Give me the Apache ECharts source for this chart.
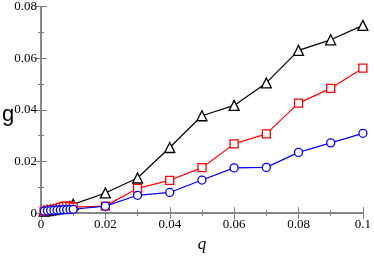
<!DOCTYPE html>
<html>
<head>
<meta charset="utf-8">
<script src="https://cdn.jsdelivr.net/npm/echarts@6/dist/echarts.min.js"></script>
<style>
  html, body { margin: 0; padding: 0; background: #fff; }
  #chart { width: 374px; height: 258px; }
</style>
</head>
<body>
<div id="chart"></div>
<script>
// q values (x axis)
var qValues = [0.001, 0.002, 0.003, 0.004, 0.005, 0.006, 0.007, 0.008, 0.009, 0.01,
  0.02, 0.03, 0.04, 0.05, 0.06, 0.07, 0.08, 0.09, 0.1];
// g values per series
var gBlack = [0.0008, 0.001, 0.0012, 0.0014, 0.0016, 0.0018, 0.002, 0.0022, 0.0026, 0.0034,
  0.0078, 0.0136, 0.0254, 0.0377, 0.0417, 0.0504, 0.063, 0.0671, 0.0727];
var gRed = [0.0008, 0.001, 0.0012, 0.0014, 0.0017, 0.0022, 0.0026, 0.0027, 0.0026, 0.0023,
  0.0027, 0.0096, 0.0127, 0.0176, 0.0268, 0.0307, 0.0426, 0.0483, 0.0561];
var gBlue = [0.0008, 0.0009, 0.001, 0.0011, 0.0012, 0.0012, 0.0013, 0.0013, 0.0014, 0.0015,
  0.0027, 0.0069, 0.008, 0.0128, 0.0175, 0.0177, 0.0235, 0.0272, 0.0309];

function pairs (ys) {
  return qValues.map(function (q, i) { return [q, ys[i]]; });
}
function fmt (v) {
  return v === 0 ? '0' : String(+v.toFixed(2));
}

var axisGray = '#7f7f7f';
var tickFont = { fontFamily: 'Liberation Serif', fontSize: 13, color: '#000' };

var frameAxis = {
  axisLine: { show: true, lineStyle: { color: axisGray, width: 1.5 } },
  axisTick: { show: true, inside: true, length: 6, lineStyle: { color: axisGray, width: 1 } },
  minorTick: { show: true, splitNumber: 2, length: 3, lineStyle: { color: axisGray, width: 1 } },
  splitLine: { show: false }
};

function series (name, ys, color, symbol, size) {
  return {
    name: name,
    type: 'line',
    data: pairs(ys),
    symbol: symbol,
    symbolSize: size,
    lineStyle: { color: color, width: 1.2 },
    itemStyle: { color: '#fff', borderColor: color, borderWidth: 1.3 },
    animation: false
  };
}

var chart = echarts.init(document.getElementById('chart'));
chart.setOption({
  animation: false,
  grid: { left: 41, right: 8, top: 5, bottom: 26 },
  xAxis: [
    Object.assign({
      type: 'value', min: 0, max: 0.1, interval: 0.02,
      name: 'q', nameLocation: 'middle', nameGap: 20,
      nameTextStyle: { fontFamily: 'Liberation Serif', fontStyle: 'italic', fontSize: 17, color: '#000' },
      axisLabel: Object.assign({ formatter: fmt, margin: 5 }, tickFont)
    }, frameAxis),
    Object.assign({
      type: 'value', min: 0, max: 0.1, interval: 0.02, position: 'top',
      axisLabel: { show: false }
    }, frameAxis)
  ],
  yAxis: [
    Object.assign({
      type: 'value', min: 0, max: 0.08, interval: 0.02,
      axisLabel: Object.assign({ formatter: fmt, margin: 4 }, tickFont)
    }, frameAxis),
    Object.assign({
      type: 'value', min: 0, max: 0.08, interval: 0.02, position: 'right',
      axisLabel: { show: false }
    }, frameAxis)
  ],
  graphic: [{
    type: 'text', left: 2, top: 104,
    style: { text: 'g', font: '22px "Liberation Sans"', fill: '#000' }
  }],
  series: [
    series('black', gBlack, '#000', 'triangle', 10),
    series('red', gRed, '#ff0000', 'rect', 8),
    series('blue', gBlue, '#0000ff', 'circle', 8)
  ]
});
</script>
</body>
</html>
